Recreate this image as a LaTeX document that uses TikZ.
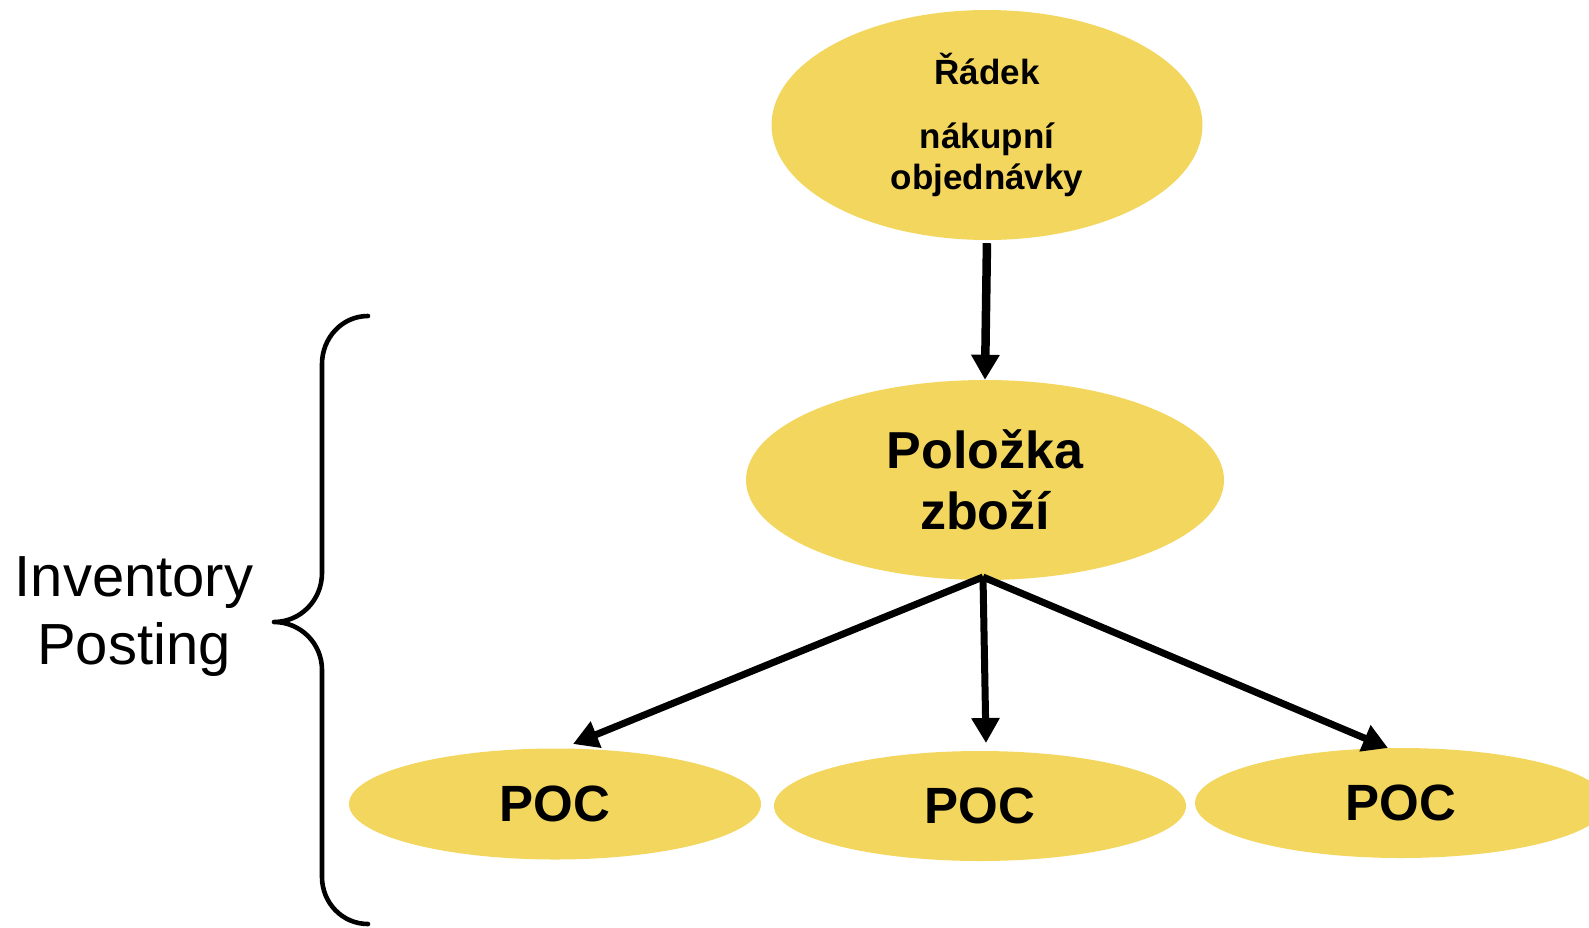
\documentclass[tikz,border=0pt]{standalone}
\usepackage{fontspec}
\setmainfont{Liberation Sans}
\usetikzlibrary{shapes.geometric,arrows.meta}
\definecolor{ovalfill}{RGB}{243,214,94}
\tikzset{
  oval/.style={ellipse, fill=ovalfill, draw=none, inner sep=0pt, align=center, font=\bfseries},
  conn/.style={line width=7pt, -{Triangle[width=27pt,length=25pt]}},
  bracepath/.style={line width=4.6pt, line cap=round, line join=round}
}
\begin{document}
\begin{tikzpicture}[x=1pt,y=-1pt]
\useasboundingbox (0,0) rectangle (1589,927);
% ellipses
\node[oval, minimum width=431pt, minimum height=230pt, font=\bfseries\fontsize{35}{41}\selectfont] (radek) at (987,125)
  {Řádek\\[23pt]nákupní\\objednávky};
\node[oval, minimum width=478pt, minimum height=200pt, font=\bfseries\fontsize{52}{61}\selectfont] (polozka) at (985,480)
  {Položka\\zboží};
\node[oval, minimum width=412pt, minimum height=111pt, font=\bfseries\fontsize{51}{60}\selectfont] (poc1) at (555,804) {POC};
\node[oval, minimum width=412pt, minimum height=110pt, font=\bfseries\fontsize{51}{60}\selectfont] (poc2) at (980,806) {POC};
\node[oval, minimum width=412pt, minimum height=110pt, font=\bfseries\fontsize{51}{60}\selectfont] (poc3) at (1401,803) {POC};
% label
\node[align=center, font=\fontsize{58}{68}\selectfont] (inv) at (134,617) {Inventory\\Posting};
% connectors
\draw[conn, line width=8.5pt, shorten <=3pt] (radek.south) -- (polozka.north);
\coordinate (fork) at (983,577);
\coordinate (tip1) at (573,744);
\coordinate (tip2) at (986,743);
\coordinate (tip3) at (1388,748);
\draw[conn] (fork) -- (tip1);
\draw[conn] (fork) -- (tip2);
\draw[conn] (fork) -- (tip3);
% brace
\draw[bracepath] (368,316) to[out=180,in=90] (322,364) -- (322,573)
  to[out=-90,in=0] (274,622) to[out=0,in=90] (322,670) -- (322,877)
  to[out=-90,in=180] (368,924);
\end{tikzpicture}
\end{document}
